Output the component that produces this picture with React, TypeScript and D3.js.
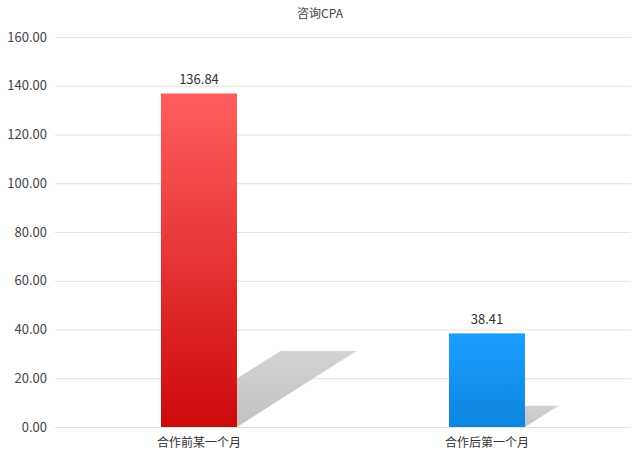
import React, { useMemo } from "react";
import * as d3 from "d3";

const title = "咨询CPA";
const categories = ["合作前某一个月", "合作后第一个月"];
const values = [136.84, 38.41];
const yTicks = [0, 20, 40, 60, 80, 100, 120, 140, 160];
const gradients = [
    ["#ff5e5e", "#cc0a0a"],
    ["#1c9eff", "#0c86e0"],
];

const width = 640;
const height = 458;
const margin = { top: 37, right: 9, bottom: 31, left: 55 };
const font = "'Noto Sans CJK SC', 'Noto Sans', sans-serif";

const App = () => {
    const x = useMemo(
        () =>
            d3
                .scaleBand<string>()
                .domain(categories)
                .range([margin.left, width - margin.right])
                .paddingInner(0.736)
                .paddingOuter(0.368),
        []
    );
    const y = useMemo(
        () => d3.scaleLinear().domain([0, 160]).range([height - margin.bottom, margin.top]),
        []
    );
    const bw = x.bandwidth();
    const base = y(0);

    return (
        <svg
            width={width}
            height={height}
            style={{ position: "absolute", left: 0, top: 0, background: "#fff" }}
            fontFamily={font}
        >
            <defs>
                {gradients.map((g, i) => (
                    <linearGradient key={`g${i}`} id={`bar${i}`} x1="0" y1="0" x2="0" y2="1">
                        <stop offset="0%" stopColor={g[0]} />
                        <stop offset="100%" stopColor={g[1]} />
                    </linearGradient>
                ))}
                <linearGradient id="shadow" x1="0" y1="1" x2="0" y2="0">
                    <stop offset="0%" stopColor="#c2c2c2" />
                    <stop offset="100%" stopColor="#d2d2d2" />
                </linearGradient>
                <filter id="blur" x="-10%" y="-10%" width="120%" height="120%">
                    <feGaussianBlur stdDeviation="0.7" />
                </filter>
            </defs>
            <text x={width / 2} y={18} textAnchor="middle" fontSize={12} fill="#444">
                {title}
            </text>
            {/* grid + y axis */}
            {yTicks.map((t) => (
                <g key={`t${t}`}>
                    <line
                        x1={margin.left}
                        x2={width - margin.right}
                        y1={y(t) + 0.5}
                        y2={y(t) + 0.5}
                        stroke="#e2e2e2"
                        strokeWidth={1}
                    />
                    <text
                        x={47}
                        y={y(t) + 4.5}
                        textAnchor="end"
                        fontSize={13}
                        fill="#444"
                    >
                        {t.toFixed(2)}
                    </text>
                </g>
            ))}
            {/* shadows */}
            {values.map((v, i) => {
                const x0 = x(categories[i]) as number;
                const sh = (base - y(v)) * 0.228;
                const dx = sh * 1.57;
                const pts = [
                    [x0, base],
                    [x0 + bw, base],
                    [x0 + bw + dx, base - sh],
                    [x0 + dx, base - sh],
                ];
                return (
                    <polygon
                        key={`s${i}`}
                        points={pts.map((p) => p.join(",")).join(" ")}
                        fill="url(#shadow)"
                        filter="url(#blur)"
                    />
                );
            })}
            {/* bars */}
            {values.map((v, i) => (
                <rect
                    key={`b${i}`}
                    x={x(categories[i])}
                    y={y(v)}
                    width={bw}
                    height={base - y(v)}
                    fill={`url(#bar${i})`}
                />
            ))}
            {/* value labels */}
            {values.map((v, i) => (
                <text
                    key={`v${i}`}
                    x={(x(categories[i]) as number) + bw / 2}
                    y={y(v) - 9}
                    textAnchor="middle"
                    fontSize={13}
                    fill="#333"
                >
                    {v.toFixed(2)}
                </text>
            ))}
            {/* x labels */}
            {categories.map((c) => (
                <text
                    key={c}
                    x={(x(c) as number) + bw / 2}
                    y={447}
                    textAnchor="middle"
                    fontSize={12}
                    fill="#333"
                >
                    {c}
                </text>
            ))}
        </svg>
    );
};

export default App;
